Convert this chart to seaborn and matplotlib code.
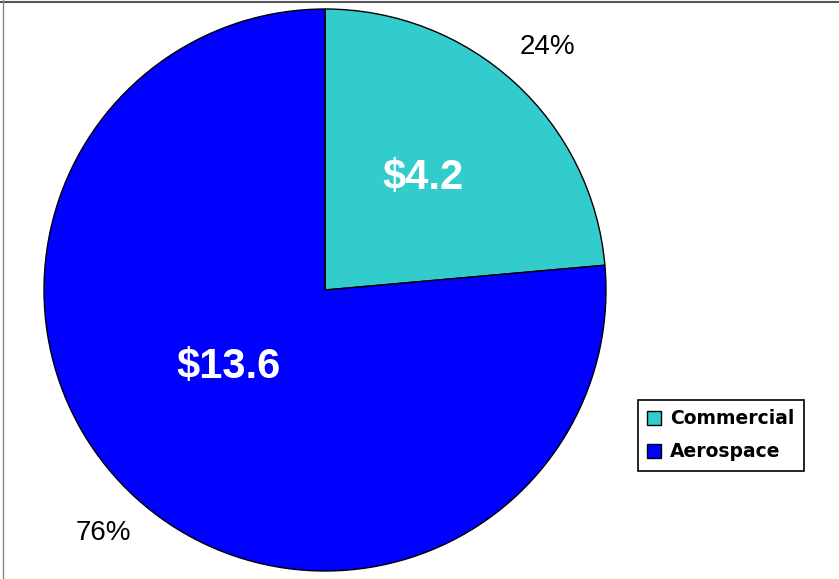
import numpy as np
import matplotlib
matplotlib.use("Agg")
import matplotlib.pyplot as plt
import seaborn as sns

# datos del grafico
segmentos = ["Commercial", "Aerospace"]
valores = [4.2, 13.6]
etiquetas_valor = ["$4.2", "$13.6"]
porcentajes = ["24%", "76%"]
colores = ["#33CCCC", "#0000FF"]

sns.set_theme(style="white")
plt.rcParams['font.family'] = ['Liberation Sans', 'DejaVu Sans']
plt.rcParams['text.color'] = 'black'

fig = plt.figure(figsize=(8.39, 5.79), dpi=100)
ax = fig.add_axes([0, 0, 1, 1])
ax.set_xlim(0, 839)
ax.set_ylim(0, 579)
ax.set_aspect('equal')
ax.axis('off')

centro = (325, 289)
radio = 281

wedges, textos, autotextos = ax.pie(
    valores, colors=colores, startangle=90, counterclock=False,
    center=centro, radius=radio, labels=porcentajes, labeldistance=1.17,
    autopct=lambda p: '', pctdistance=0.5,
    wedgeprops=dict(edgecolor='black', linewidth=1),
    textprops=dict(fontsize=20, color='black'))

for t in textos:
    t.set_ha('center')
    t.set_va('center')

# etiquetas de valor dentro de cada sector
dist_rel = [0.53, 0.44]
angulos = [48.8, 218.8]
for txt, et, d, a in zip(autotextos, etiquetas_valor, dist_rel, angulos):
    txt.set_text(et)
    txt.set_position((centro[0] + d * radio * np.cos(np.radians(a)),
                      centro[1] + d * radio * np.sin(np.radians(a))))
    txt.set_color('white')
    txt.set_fontsize(30)
    txt.set_fontweight('bold')
    txt.set_ha('center')
    txt.set_va('center')

ax.set_xlim(0, 839)
ax.set_ylim(0, 579)

leg = ax.legend(wedges, segmentos, loc='upper left', bbox_to_anchor=(638 / 839, 1 - 400 / 579),
                frameon=True, fancybox=False, edgecolor='black', framealpha=1,
                prop=dict(family='DejaVu Sans', weight='bold', size=13.5),
                handlelength=0.75, handleheight=0.75, handletextpad=0.45,
                borderpad=0.5, labelspacing=0.75, borderaxespad=0)
leg.get_frame().set_linewidth(1.2)
for t in leg.get_texts():
    t.set_color('black')

# borde superior e izquierdo
fig.add_artist(plt.Line2D([0, 1], [1 - 2 / 579, 1 - 2 / 579], color='#555555', linewidth=1.5))
fig.add_artist(plt.Line2D([3 / 839, 3 / 839], [0, 1], color='#888888', linewidth=1))

fig.savefig('out.png', dpi=100)
